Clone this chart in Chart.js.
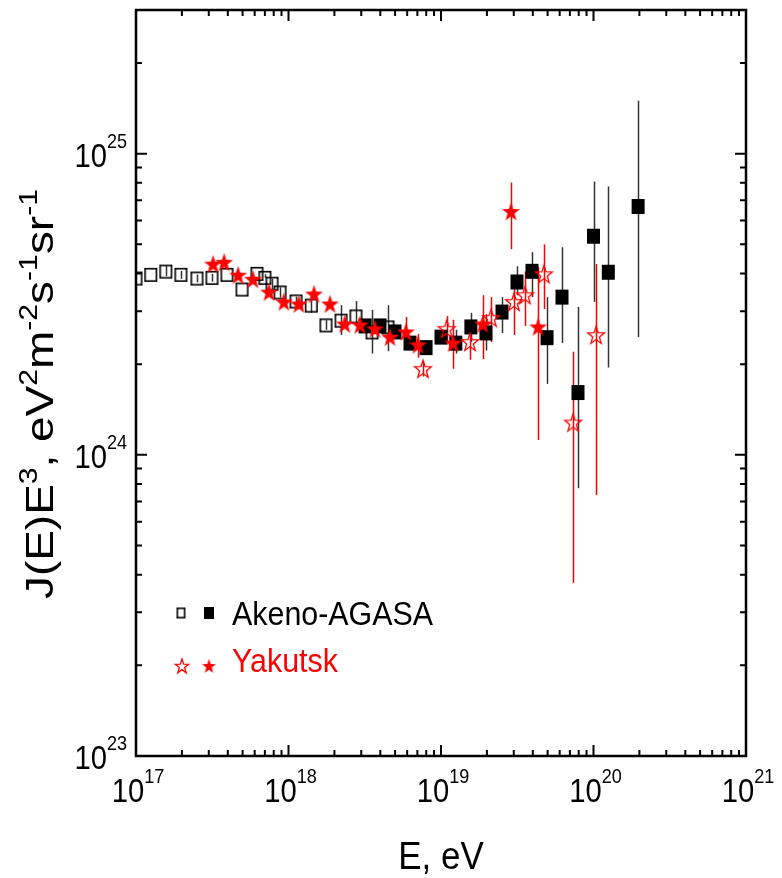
<!DOCTYPE html>
<html><head><meta charset="utf-8">
<script src="https://cdn.jsdelivr.net/npm/chart.js@4.4.1/dist/chart.umd.min.js"></script>
<style>html,body{margin:0;padding:0;background:#fff}#wrap{width:782px;height:878px}</style>
</head><body><div id="wrap"><canvas id="c" width="782" height="878"></canvas></div>
<script>
// ---------------- DATA ----------------
const akenoE = [1.0e17,1.25e17,1.57e17,1.97e17,2.51e17,3.15e17,3.95e17,4.96e17,6.21e17,7.0e17,7.8e17,8.8e17,1.12e18,1.41e18,1.76e18,2.21e18,2.77e18,3.53e18,4.49e18];
const akenoJ = [3.85e24,3.96e24,4.06e24,3.96e24,3.85e24,3.87e24,3.96e24,3.54e24,3.99e24,3.87e24,3.70e24,3.46e24,3.23e24,3.13e24,2.69e24,2.79e24,2.88e24,2.55e24,2.65e24];
const akenoLo = [null,null,3.92e24,3.84e24,3.74e24,3.76e24,null,null,null,null,3.55e24,3.33e24,3.10e24,2.96e24,2.60e24,2.50e24,2.67e24,2.17e24,2.21e24];
const akenoHi = [null,null,4.25e24,4.08e24,3.97e24,3.99e24,null,null,null,3.98e24,3.85e24,3.60e24,3.35e24,3.33e24,2.80e24,3.14e24,3.24e24,3.03e24,3.14e24];

const agasaE = [3.18e18,3.98e18,4.99e18,6.26e18,7.98e18,1.0e19,1.25e19,1.57e19,1.97e19,2.51e19,3.15e19,3.95e19,4.96e19,6.21e19,7.91e19,1.0e20,1.25e20,1.96e20];
const agasaJ = [2.68e24,2.68e24,2.56e24,2.35e24,2.27e24,2.46e24,2.35e24,2.66e24,2.54e24,2.98e24,3.75e24,4.07e24,2.45e24,3.34e24,1.61e24,5.32e24,4.04e24,6.68e24];
const agasaLo = [null,null,null,null,null,2.36e24,2.17e24,2.37e24,2.22e24,2.54e24,3.39e24,3.34e24,1.72e24,2.35e24,7.75e23,3.22e24,1.95e24,2.46e24];
const agasaHi = [null,null,null,null,null,2.56e24,2.60e24,2.96e24,2.93e24,3.34e24,4.23e24,4.71e24,3.34e24,4.89e24,3.10e24,8.08e24,7.78e24,1.50e25];

const yakFilledE = [3.20e17,3.78e17,4.67e17,5.85e17,7.45e17,9.33e17,1.17e18,1.47e18,1.87e18,2.34e18,2.94e18,3.69e18,4.63e18,5.89e18,7.06e18,1.20e19,1.88e19,2.88e19,4.33e19];
const yakFilledJ = [4.30e24,4.36e24,3.95e24,3.83e24,3.47e24,3.22e24,3.17e24,3.42e24,3.17e24,2.72e24,2.70e24,2.62e24,2.46e24,2.56e24,2.32e24,2.35e24,2.72e24,6.43e24,2.66e24];
const yakFilledLo = [null,null,null,null,null,null,null,null,null,null,null,null,null,2.28e24,2.10e24,1.93e24,2.08e24,4.82e24,1.12e24];
const yakFilledHi = [null,null,null,null,null,null,null,null,null,null,null,null,null,2.87e24,2.52e24,2.81e24,3.39e24,8.02e24,4.20e24];

const yakOpenE = [7.62e18,1.09e19,1.55e19,2.13e19,3.01e19,3.56e19,4.73e19,7.35e19,1.04e20];
const yakOpenJ = [1.93e24,2.62e24,2.37e24,2.85e24,3.22e24,3.39e24,3.98e24,1.28e24,2.50e24];
const yakOpenLo = [1.82e24,2.37e24,2.07e24,2.37e24,2.50e24,2.68e24,3.05e24,3.76e23,7.35e23];
const yakOpenHi = [2.05e24,2.89e24,2.70e24,3.34e24,3.95e24,4.07e24,5.00e24,2.20e24,4.30e24];

const xTickExps = [17,18,19,20,21];
const yTickExps = [23,24,25];
const seriesNames = ['Akeno-AGASA','Yakutsk'];
const xTitle = 'E, eV';
const yTitleParts = [['J(E)E',0],['3',1],[', eV',0],['2',1],['m',0],['-2',1],['s',0],['-1',1],['sr',0],['-1',1]];

// ---------------- MARKERS ----------------
const RED = '#ff0000';
const FONT = '"Liberation Sans", Arial, sans-serif';
function mk(w,h,draw){const c=document.createElement('canvas');c.width=w;c.height=h;draw(c.getContext('2d'),w,h);return c;}
function starPath(g,cx,cy,R,sy){g.beginPath();for(let k=0;k<10;k++){const r=k%2?R*0.40:R;const a=-Math.PI/2+k*Math.PI/5;const px=cx+r*Math.cos(a),py=cy+r*Math.sin(a)*sy;k?g.lineTo(px,py):g.moveTo(px,py);}g.closePath();}
function makeSquare(w,h,filled){return mk(w+2,h+2,(g)=>{if(filled){g.fillStyle='#000';g.fillRect(1,1,w,h);}else{g.strokeStyle='#000';g.lineWidth=1.6;g.strokeRect(1.8,1.8,w-1.6,h-1.6);}});}
function makeStar(R,sy,filled){const w=Math.ceil(2*R+4),h=Math.ceil(2*R*sy+4);return mk(w,h,(g)=>{starPath(g,w/2,h/2+R*sy*0.08,R,sy);if(filled){g.fillStyle=RED;g.fill();}else{g.strokeStyle=RED;g.lineWidth=1.3;g.stroke();}});}
const sqFilled = makeSquare(13,15,true);
const sqOpen = makeSquare(13,14,false);
const starFilled = makeStar(9.3,1.08,true);
const starOpen = makeStar(8.8,1.08,false);
const lgSqFilled = makeSquare(10,12,true);
const lgSqOpen = makeSquare(9,11,false);
const lgStarFilled = makeStar(7.2,1.08,true);
const lgStarOpen = makeStar(7,1.08,false);

function pts(E,J){return E.map((e,i)=>({x:e,y:J[i]}));}

// ---------------- PLUGINS ----------------
const errPlugin = {
  id:'errbars',
  beforeDatasetsDraw(chart){
    const g=chart.ctx, xs=chart.scales.x, ys=chart.scales.y, a=chart.chartArea;
    g.save(); g.beginPath(); g.rect(a.left,a.top,a.right-a.left,a.bottom-a.top); g.clip();
    g.lineWidth=1.5;
    [3,2,1,0].forEach(di=>{
      const ds=chart.data.datasets[di];
      g.strokeStyle=ds.errColor;
      ds.data.forEach((p,i)=>{
        const lo=ds.errLo[i], hi=ds.errHi[i];
        if(lo==null && hi==null) return;
        const px=Math.round(xs.getPixelForValue(p.x))+0.5;
        const y1=ys.getPixelForValue(lo==null?p.y:lo), y2=ys.getPixelForValue(hi==null?p.y:hi);
        g.beginPath(); g.moveTo(px,y1); g.lineTo(px,y2); g.stroke();
      });
    });
    g.restore();
  }
};

function drawPow(g,base,exp,x,y,bf,sf,rise,align,sx){
  g.font=bf+'px '+FONT; const wb=g.measureText(base).width*sx;
  g.font=sf+'px '+FONT; const we=g.measureText(exp).width*sx;
  let x0 = align==='right'? x-wb-we : x-(wb+we)/2;
  g.save(); g.translate(x0,y); g.scale(sx,1);
  g.textAlign='left'; g.textBaseline='alphabetic';
  g.font=bf+'px '+FONT; g.fillText(base,0,0);
  g.font=sf+'px '+FONT; g.fillText(exp,wb/sx,-rise);
  g.restore();
}

const framePlugin = {
  id:'frame',
  afterDraw(chart){
    const g=chart.ctx, xs=chart.scales.x, ys=chart.scales.y, a=chart.chartArea;
    g.save();
    g.strokeStyle='#000'; g.fillStyle='#000';
    g.lineWidth=2;
    const xmin=Math.log10(xs.min), xmax=Math.log10(xs.max);
    for(let d=Math.floor(xmin); d<=xmax; d++){
      for(let m=1;m<=9;m++){
        const v=m*Math.pow(10,d); if(v<xs.min*0.999||v>xs.max*1.001) continue;
        const px=xs.getPixelForValue(v), L=(m===1)?11:6;
        g.beginPath(); g.moveTo(px,a.bottom); g.lineTo(px,a.bottom-L); g.moveTo(px,a.top); g.lineTo(px,a.top+L); g.stroke();
      }
    }
    const ymin=Math.log10(ys.min), ymax=Math.log10(ys.max);
    for(let d=Math.floor(ymin); d<=ymax; d++){
      for(let m=1;m<=9;m++){
        const v=m*Math.pow(10,d); if(v<ys.min*0.999||v>ys.max*1.001) continue;
        const py=ys.getPixelForValue(v), L=(m===1)?11:6;
        g.beginPath(); g.moveTo(a.left,py); g.lineTo(a.left+L,py); g.moveTo(a.right,py); g.lineTo(a.right-L,py); g.stroke();
      }
    }
    g.lineWidth=2.5;
    g.strokeRect(a.left,a.top,a.right-a.left,a.bottom-a.top);
    xTickExps.forEach(e=>{
      const px=xs.getPixelForValue(Math.pow(10,e));
      drawPow(g,'10',String(e),px+2,a.bottom+46,34,21,19,'center',0.86);
    });
    yTickExps.forEach(e=>{
      const py=ys.getPixelForValue(Math.pow(10,e));
      drawPow(g,'10',String(e),a.left-9,py+13,34,21,19,'right',0.86);
    });
    g.save(); g.translate((a.left+a.right)/2,869); g.scale(0.92,1);
    g.font='38px '+FONT; g.textAlign='center'; g.textBaseline='alphabetic';
    g.fillText(xTitle,0,0); g.restore();
    const bf=38, sf=25;
    let total=0; const ws=yTitleParts.map(p=>{g.font=(p[1]?sf:bf)+'px '+FONT; const w=g.measureText(p[0]).width; total+=w; return w;});
    const target=410, sc=target/total;
    g.save(); g.translate(53,394); g.rotate(-Math.PI/2); g.scale(sc,1);
    let cx=-total/2; g.textAlign='left';
    yTitleParts.forEach((p,i)=>{g.font=(p[1]?sf:bf)+'px '+FONT; g.fillText(p[0],cx,p[1]?-16:0); cx+=ws[i];});
    g.restore();
    g.drawImage(lgSqOpen,181-lgSqOpen.width/2,613-lgSqOpen.height/2);
    g.drawImage(lgSqFilled,209-lgSqFilled.width/2,613-lgSqFilled.height/2);
    g.drawImage(lgStarOpen,182-lgStarOpen.width/2,666-lgStarOpen.height/2);
    g.drawImage(lgStarFilled,209-lgStarFilled.width/2,666-lgStarFilled.height/2);
    g.save(); g.translate(232,625); g.scale(0.95,1.05);
    g.font='32px '+FONT; g.textAlign='left';
    g.fillStyle='#000'; g.fillText(seriesNames[0],0,0);
    g.restore();
    g.save(); g.translate(232,672); g.scale(0.95,1.05);
    g.font='32px '+FONT; g.textAlign='left';
    g.fillStyle=RED; g.fillText(seriesNames[1],0,0);
    g.restore();
    g.restore();
  }
};

new Chart(document.getElementById('c'),{
  type:'scatter',
  data:{datasets:[
    {label:seriesNames[1]+' (filled)',data:pts(yakFilledE,yakFilledJ),errLo:yakFilledLo,errHi:yakFilledHi,errColor:RED,pointStyle:starFilled,pointRadius:9,order:0,clip:0},
    {label:seriesNames[1]+' (open)',data:pts(yakOpenE,yakOpenJ),errLo:yakOpenLo,errHi:yakOpenHi,errColor:RED,pointStyle:starOpen,pointRadius:9,order:1,clip:0},
    {label:'AGASA',data:pts(agasaE,agasaJ),errLo:agasaLo,errHi:agasaHi,errColor:'#333',pointStyle:sqFilled,pointRadius:8,order:2,clip:0},
    {label:'Akeno',data:pts(akenoE,akenoJ),errLo:akenoLo,errHi:akenoHi,errColor:'#333',pointStyle:sqOpen,pointRadius:8,order:3,clip:0}
  ]},
  options:{
    responsive:false, animation:false, devicePixelRatio:1,
    layout:{padding:{top:6,right:36,left:0,bottom:0}},
    plugins:{legend:{display:false},tooltip:{enabled:false}},
    events:[],
    scales:{
      x:{type:'logarithmic',min:1e17,max:1e21,grid:{display:false},border:{display:false},ticks:{display:false},afterFit(s){s.height=122;}},
      y:{type:'logarithmic',min:1e23,max:3e25,grid:{display:false},border:{display:false},ticks:{display:false},afterFit(s){s.width=136;}}
    }
  },
  plugins:[errPlugin,framePlugin]
});
</script></body></html>
